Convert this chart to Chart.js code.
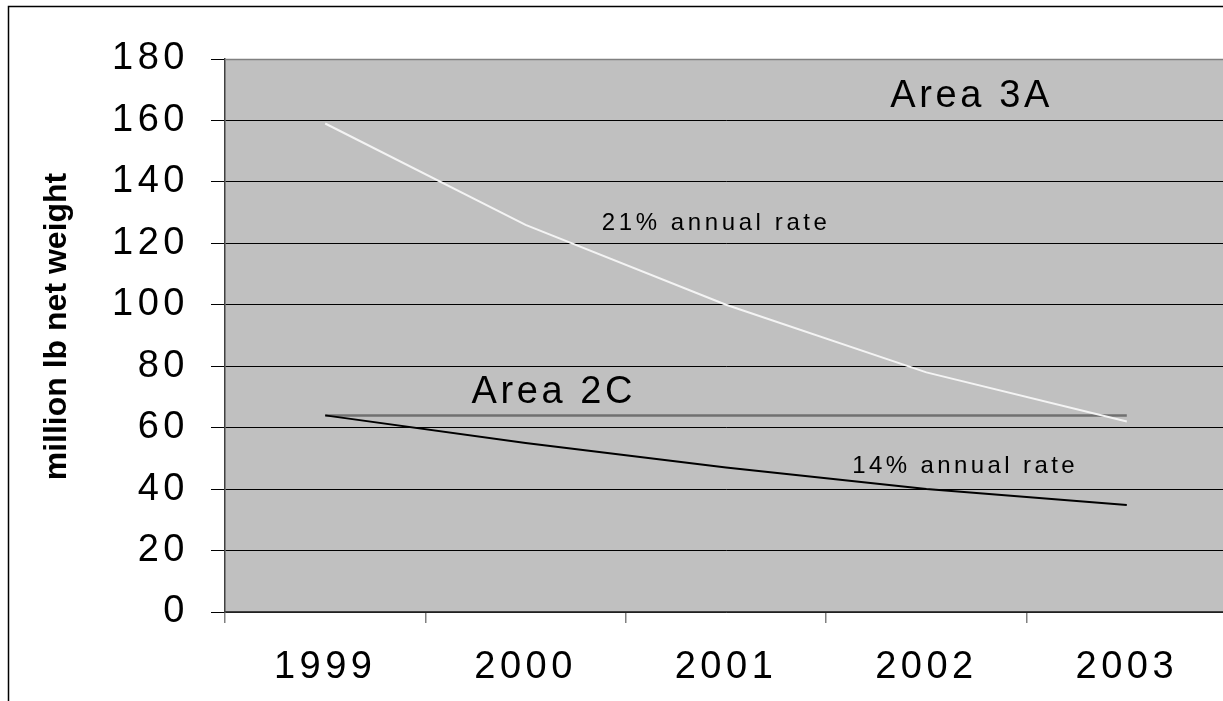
<!DOCTYPE html>
<html lang="en">
<head>
  <meta charset="UTF-8">
  <title>Area 2C / Area 3A</title>
  <script src="https://cdn.jsdelivr.net/npm/chart.js"></script>
  <style>
    body { margin: 0; overflow: hidden; background: #fff; }
    #wrap { position: absolute; left: 0; top: 0; width: 1240px; height: 701px; }
  </style>
</head>
<body>
  <div id="wrap"><canvas id="chart"></canvas></div>

  <script>
    const years = ['1999', '2000', '2001', '2002', '2003'];
    const area3A = [159, 126, 100, 78, 62];
    const area2C = [64, 55, 47, 40, 34.8];
    const level2C = [64, 64, 64, 64, 64];
    const yTicks = [0, 20, 40, 60, 80, 100, 120, 140, 160, 180];

    const FONT = '"Liberation Sans", Arial, sans-serif';

    // plot background, frame and free text
    const decor = {
      id: 'decor',
      beforeDraw(chart) {
        const { ctx, chartArea: a } = chart;
        ctx.save();
        ctx.fillStyle = '#c0c0c0';
        ctx.fillRect(a.left, a.top, a.right - a.left, a.bottom - a.top);
        ctx.strokeStyle = '#000';
        ctx.lineWidth = 1.5;
        ctx.strokeRect(8.5, 6.5, 2000, 2000);
        ctx.restore();
        ctx.letterSpacing = '4.5px';
      },
      afterDatasetsDraw(chart) {
        const { ctx, chartArea: a } = chart;
        const x = chart.scales.x, y = chart.scales.y;
        ctx.save();
        ctx.strokeStyle = '#808080';
        ctx.lineWidth = 1.5;
        ctx.beginPath();
        ctx.moveTo(a.left, a.top + 0.5);
        ctx.lineTo(a.right, a.top + 0.5);
        ctx.stroke();

        ctx.fillStyle = '#000';
        ctx.textBaseline = 'alphabetic';
        ctx.textAlign = 'left';
        const put = (txt, px, py, size, sp) => {
          ctx.font = size + 'px ' + FONT;
          ctx.letterSpacing = sp + 'px';
          ctx.fillText(txt, px, py);
        };
        put('Area 3A', x.getPixelForValue(2.82), y.getPixelForValue(164.5), 38, 3.6);
        put('21% annual rate', x.getPixelForValue(1.38), y.getPixelForValue(124.5), 24, 3.6);
        put('Area 2C', x.getPixelForValue(0.73), y.getPixelForValue(68.1), 38, 3.6);
        put('14% annual rate', x.getPixelForValue(2.63), y.getPixelForValue(45.1), 24, 3.4);

        // y-axis title
        ctx.letterSpacing = '0px';
        ctx.font = 'bold 32px ' + FONT;
        ctx.textAlign = 'center';
        ctx.translate(66, (a.top + a.bottom) / 2 - 9);
        ctx.rotate(-Math.PI / 2);
        ctx.fillText('million lb net weight', 0, 0);
        ctx.restore();
      }
    };

    const ctx = document.getElementById('chart').getContext('2d');
    new Chart(ctx, {
      type: 'line',
      data: {
        labels: years,
        datasets: [
          { label: 'Area 2C level', data: level2C, borderColor: '#707070', borderWidth: 2.5, order: 3 },
          { label: 'Area 2C', data: area2C, borderColor: '#000000', borderWidth: 2, order: 2 },
          { label: 'Area 3A', data: area3A, borderColor: '#f4f4f4', borderWidth: 2, order: 1 }
        ]
      },
      options: {
        responsive: true,
        maintainAspectRatio: false,
        animation: false,
        devicePixelRatio: 1,
        layout: { padding: { top: 59, right: 13, left: 0, bottom: 0 } },
        elements: { point: { radius: 0, hoverRadius: 0 }, line: { tension: 0 } },
        plugins: { legend: { display: false }, tooltip: { enabled: false } },
        scales: {
          x: {
            offset: true,
            grid: { offset: true, drawOnChartArea: false, tickLength: 11, color: '#808080', lineWidth: 1.5 },
            border: { color: '#404040', width: 1.5 },
            ticks: { color: '#000', padding: 22, maxRotation: 0, font: { family: FONT, size: 38 } },
            afterFit(scale) { scale.height = 89; }
          },
          y: {
            min: 0,
            max: 180,
            afterBuildTicks(scale) { scale.ticks = yTicks.map(v => ({ value: v })); },
            grid: { color: '#000', lineWidth: 1, tickLength: 14 },
            border: { color: '#404040', width: 1.5 },
            ticks: { color: '#000', padding: 22, font: { family: FONT, size: 38 } },
            afterFit(scale) { scale.width = 225; }
          }
        }
      },
      plugins: [decor]
    });
  </script>
</body>
</html>
